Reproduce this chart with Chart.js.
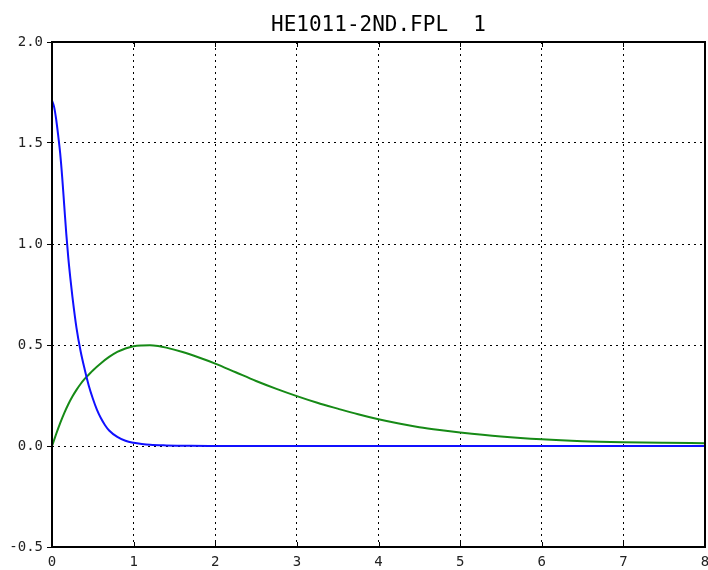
<!DOCTYPE html>
<html lang="en">
<head>
    <meta charset="UTF-8">
    <title>HE1011-2ND.FPL 1</title>
    <script src="https://cdn.jsdelivr.net/npm/chart.js"></script>
    <style>
        html, body { margin: 0; padding: 0; background: #fff; }
        #wrap { width: 708px; height: 570px; }
    </style>
</head>
<body>
    <div id="wrap"><canvas id="grafico"></canvas></div>

    <script>
        // Valores
        const azulX = [0, 0.025, 0.05, 0.075, 0.1, 0.125, 0.15, 0.175, 0.2, 0.225, 0.25, 0.3, 0.35, 0.4, 0.45, 0.5, 0.55, 0.6, 0.65, 0.7, 0.8, 0.9, 1.0, 1.1, 1.2, 1.4, 1.7, 2.0, 3, 4, 5, 6, 7, 8];
        const azulY = [1.71, 1.68, 1.62, 1.54, 1.45, 1.33, 1.19, 1.05, 0.93, 0.83, 0.74, 0.585, 0.47, 0.38, 0.30, 0.235, 0.18, 0.137, 0.103, 0.077, 0.045, 0.026, 0.016, 0.010, 0.006, 0.003, 0.001, 0.0005, 0, 0, 0, 0, 0, 0];

        const verdeX = [0, 0.05, 0.1, 0.15, 0.2, 0.25, 0.3, 0.35, 0.4, 0.45, 0.5, 0.6, 0.7, 0.8, 0.9, 1.0, 1.1, 1.2, 1.3, 1.4, 1.6, 1.8, 2.0, 2.25, 2.5, 2.75, 3.0, 3.25, 3.5, 3.75, 4.0, 4.25, 4.5, 4.75, 5.0, 5.5, 6.0, 6.5, 7.0, 7.5, 8.0];
        const verdeY = [0, 0.058, 0.113, 0.163, 0.207, 0.245, 0.278, 0.307, 0.332, 0.353, 0.374, 0.41, 0.441, 0.466, 0.483, 0.494, 0.498, 0.499, 0.495, 0.487, 0.465, 0.438, 0.408, 0.365, 0.322, 0.283, 0.247, 0.214, 0.185, 0.157, 0.132, 0.111, 0.093, 0.079, 0.067, 0.047, 0.033, 0.024, 0.019, 0.016, 0.014];

        const titulo = 'HE1011-2ND.FPL  1';
        const fuente = "'DejaVu Sans Mono', monospace";

        const puntos = (xs, ys) => xs.map((x, i) => ({ x: x, y: ys[i] }));

        // titulo centrado sobre el area, marco negro y marcas internas
        const marco = {
            id: 'marco',
            afterDraw(chart) {
                const { ctx, chartArea: a, scales } = chart;
                ctx.save();
                ctx.strokeStyle = '#000';
                ctx.lineWidth = 1;
                ctx.beginPath();
                scales.x.ticks.forEach(t => {
                    const px = Math.round(scales.x.getPixelForValue(t.value)) + 0.5;
                    ctx.moveTo(px, a.top); ctx.lineTo(px, a.top + 5);
                    ctx.moveTo(px, a.bottom); ctx.lineTo(px, a.bottom - 5);
                });
                ctx.stroke();
                ctx.lineWidth = 2;
                ctx.strokeRect(a.left, a.top, a.right - a.left, a.bottom - a.top);

                ctx.fillStyle = '#000';
                ctx.font = '21px ' + fuente;
                ctx.textAlign = 'center';
                ctx.textBaseline = 'alphabetic';
                ctx.fillText(titulo, (a.left + a.right) / 2, 31);
                ctx.restore();
            }
        };

        new Chart(document.getElementById('grafico'), {
            type: 'line',
            data: {
                datasets: [{
                    data: puntos(azulX, azulY),
                    borderColor: '#1010ff',
                    borderWidth: 2,
                    pointRadius: 0,
                    cubicInterpolationMode: 'monotone'
                }, {
                    data: puntos(verdeX, verdeY),
                    borderColor: '#168a16',
                    borderWidth: 2,
                    pointRadius: 0,
                    cubicInterpolationMode: 'monotone'
                }]
            },
            options: {
                responsive: true,
                maintainAspectRatio: false,
                animation: false,
                layout: { padding: { left: 0, right: 3, top: 42, bottom: 0 } },
                plugins: {
                    legend: { display: false },
                    tooltip: { enabled: false },
                    title: { display: false }
                },
                scales: {
                    x: {
                        type: 'linear',
                        min: 0,
                        max: 8,
                        ticks: {
                            stepSize: 1,
                            padding: 7,
                            color: '#222',
                            font: { family: fuente, size: 14 },
                            maxRotation: 0
                        },
                        grid: { color: '#000', lineWidth: 1, drawTicks: false },
                        border: { display: false, dash: [2, 4] },
                        afterFit(s) { s.height = 23; s.paddingLeft = 0; s.paddingRight = 0; }
                    },
                    y: {
                        min: -0.5,
                        max: 2.0,
                        ticks: {
                            stepSize: 0.5,
                            padding: 4,
                            color: '#222',
                            font: { family: fuente, size: 14 },
                            callback: v => v.toFixed(1)
                        },
                        grid: { color: '#000', lineWidth: 1, tickLength: 5, tickColor: '#000', tickBorderDash: [] },
                        border: { display: false, dash: [2, 4] },
                        afterFit(s) { s.width = 52; s.paddingTop = 0; s.paddingBottom = 0; }
                    }
                }
            },
            plugins: [marco]
        });
    </script>
</body>
</html>
